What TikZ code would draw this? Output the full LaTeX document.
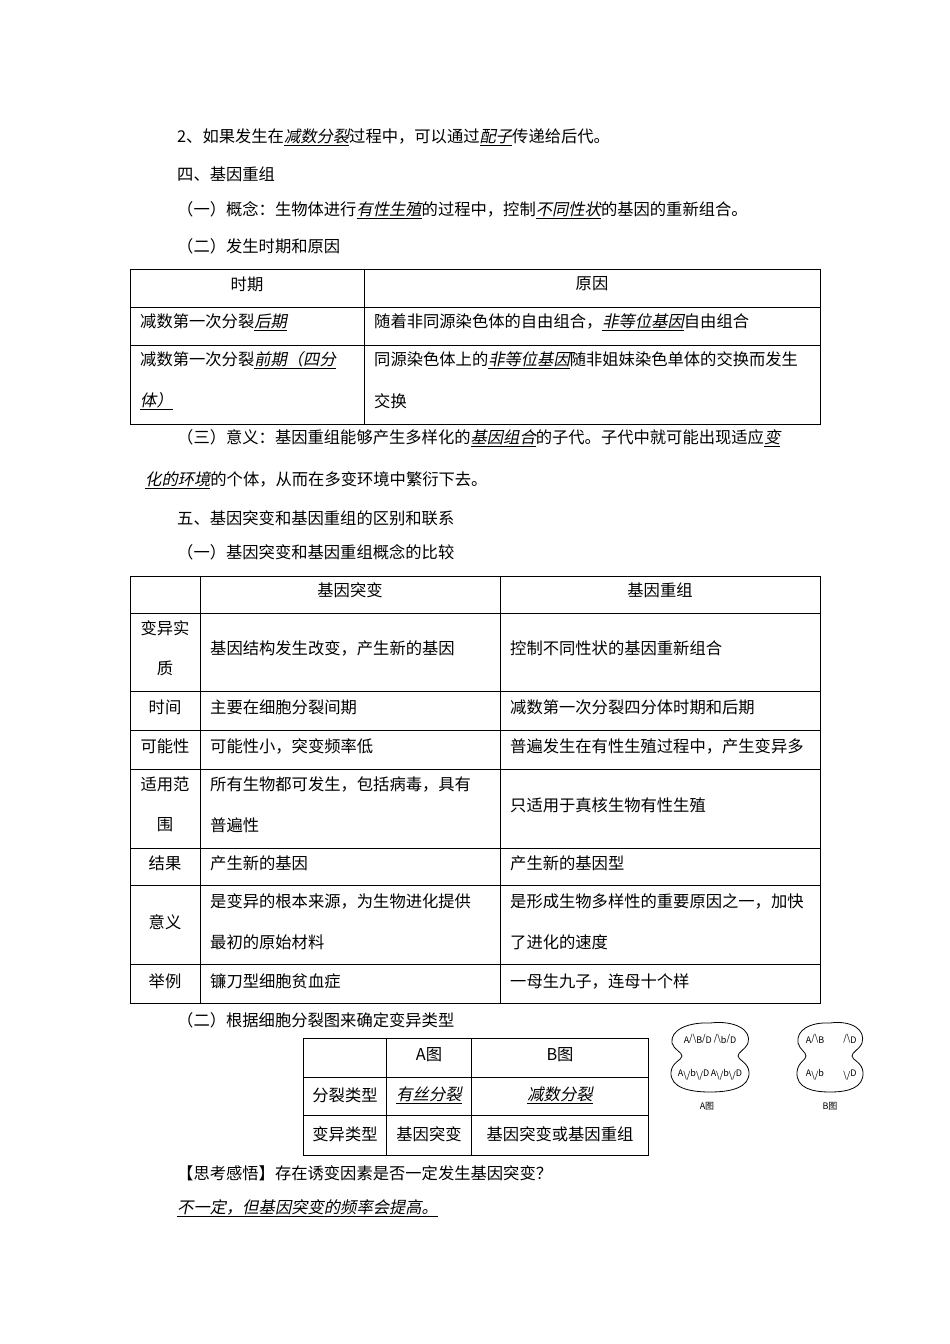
\documentclass[tikz,border=0pt]{standalone}
\usepackage{fontspec}
\setmainfont{Noto Sans CJK SC}
\newfontfamily\slt[FakeSlant=0.2]{Noto Sans CJK SC}
\newcommand{\ul}[1]{{\slt\underline{#1}}}
\begin{document}
\begin{tikzpicture}[x=1pt,y=-1pt,
  every node/.style={font=\fontsize{16.3}{19}\selectfont,inner sep=0pt},
  txt/.style={anchor=west},
  grid/.style={line width=0.7pt},
  sm/.style={font=\fontsize{9}{10}\selectfont}]
\useasboundingbox (0,0) rectangle (950,1344);
\node[txt] (l1) at (177,137) {2、如果发生在\ul{减数分裂}过程中，可以通过\ul{配子}传递给后代。};
\node[txt] (l2) at (177,174) {四、基因重组};
\node[txt] (l3) at (177,210) {（一）概念：生物体进行\ul{有性生殖}的过程中，控制\ul{不同性状}的基因的重新组合。};
\node[txt] (l4) at (177,246) {（二）发生时期和原因};
% table 1
\draw[grid] (130,269) rectangle (820,424);
\draw[grid] (364,269) -- (364,424);
\draw[grid] (130,307) -- (820,307) (130,345) -- (820,345);
\node (t1a) at (247,284) {时期};
\node (t1b) at (592,284) {原因};
\node[txt] (t1c) at (140,322) {减数第一次分裂\ul{后期}};
\node[txt] (t1d) at (374,322) {随着非同源染色体的自由组合，\ul{非等位基因}自由组合};
\node[txt] (t1e) at (140,360) {减数第一次分裂\ul{前期（四分}};
\node[txt] (t1f) at (140,401) {\ul{体）}};
\node[txt] (t1g) at (374,360) {同源染色体上的\ul{非等位基因}随非姐妹染色单体的交换而发生};
\node[txt] (t1h) at (374,401) {交换};
\node[txt] (l5) at (177,438) {（三）意义：基因重组能够产生多样化的\ul{基因组合}的子代。子代中就可能出现适应\ul{变}};
\node[txt] (l6) at (145,480) {\ul{化的环境}的个体，从而在多变环境中繁衍下去。};
\node[txt] (l7) at (177,518) {五、基因突变和基因重组的区别和联系};
\node[txt] (l8) at (177,552) {（一）基因突变和基因重组概念的比较};
% table 2
\draw[grid] (130,576) rectangle (820,1003);
\draw[grid] (200,576) -- (200,1003) (500,576) -- (500,1003);
\foreach \yy in {613,691,730,769,848,885,964} \draw[grid] (130,\yy) -- (820,\yy);
\node (h1) at (350,590) {基因突变};
\node (h2) at (660,590) {基因重组};
\node (r1a) at (165,628) {变异实};
\node (r1b) at (165,668) {质};
\node[txt] (r1c) at (210,648) {基因结构发生改变，产生新的基因};
\node[txt] (r1d) at (510,648) {控制不同性状的基因重新组合};
\node (r2a) at (165,707) {时间};
\node[txt] (r2c) at (210,707) {主要在细胞分裂间期};
\node[txt] (r2d) at (510,707) {减数第一次分裂四分体时期和后期};
\node (r3a) at (165,746) {可能性};
\node[txt] (r3c) at (210,746) {可能性小，突变频率低};
\node[txt] (r3d) at (510,746) {普遍发生在有性生殖过程中，产生变异多};
\node (r4a) at (165,784) {适用范};
\node (r4b) at (165,825) {围};
\node[txt] (r4c) at (210,784) {所有生物都可发生，包括病毒，具有};
\node[txt] (r4e) at (210,825) {普遍性};
\node[txt] (r4d) at (510,805) {只适用于真核生物有性生殖};
\node (r5a) at (165,863) {结果};
\node[txt] (r5c) at (210,863) {产生新的基因};
\node[txt] (r5d) at (510,863) {产生新的基因型};
\node (r6a) at (165,922) {意义};
\node[txt] (r6c) at (210,901) {是变异的根本来源，为生物进化提供};
\node[txt] (r6e) at (210,942) {最初的原始材料};
\node[txt] (r6d) at (510,901) {是形成生物多样性的重要原因之一，加快};
\node[txt] (r6f) at (510,942) {了进化的速度};
\node (r7a) at (165,981) {举例};
\node[txt] (r7c) at (210,981) {镰刀型细胞贫血症};
\node[txt] (r7d) at (510,981) {一母生九子，连母十个样};
\node[txt] (l9) at (177,1020) {（二）根据细胞分裂图来确定变异类型};
% table 3
\draw[grid] (303,1038) rectangle (648,1155);
\draw[grid] (386,1038) -- (386,1155) (471,1038) -- (471,1155);
\draw[grid] (303,1077) -- (648,1077) (303,1115) -- (648,1115);
\node (s1) at (429,1055) {A图};
\node (s2) at (560,1055) {B图};
\node (s3) at (345,1095) {分裂类型};
\node (s4) at (429,1095) {\ul{有丝分裂}};
\node (s5) at (560,1095) {\ul{减数分裂}};
\node (s6) at (345,1134) {变异类型};
\node (s7) at (429,1134) {基因突变};
\node (s8) at (560,1134) {基因突变或基因重组};
% cell figures
\draw[line width=0.8pt] (710,1023) .. controls (735,1020) and (752,1030) .. (748,1043)
  .. controls (745,1050) and (738,1052) .. (738,1056) .. controls (738,1060) and (748,1062) .. (749,1072)
  .. controls (750,1088) and (730,1092) .. (710,1092) .. controls (690,1092) and (670,1088) .. (671,1072)
  .. controls (672,1062) and (682,1060) .. (682,1056) .. controls (682,1052) and (674,1050) .. (672,1043)
  .. controls (670,1030) and (688,1022) .. (710,1023) -- cycle;
\node[sm] (ca1) at (710,1039) {A\raisebox{2pt}{/\textbackslash}B\raisebox{2pt}{/}D\ \raisebox{2pt}{/\textbackslash}b\raisebox{2pt}{/}D};
\node[sm] (ca2) at (710,1075) {A\raisebox{-2pt}{\textbackslash/}b\raisebox{-2pt}{\textbackslash/}D\,A\raisebox{-2pt}{\textbackslash/}b\raisebox{-2pt}{\textbackslash/}D};
\node[sm] (ca3) at (707,1106) {A图};
\draw[line width=0.8pt] (830,1023) .. controls (852,1020) and (866,1030) .. (862,1043)
  .. controls (859,1050) and (852,1052) .. (852,1056) .. controls (852,1060) and (862,1062) .. (863,1072)
  .. controls (864,1088) and (848,1092) .. (830,1092) .. controls (812,1092) and (796,1088) .. (797,1072)
  .. controls (798,1062) and (806,1060) .. (806,1056) .. controls (806,1052) and (800,1050) .. (798,1043)
  .. controls (796,1030) and (810,1022) .. (830,1023) -- cycle;
\node[sm] (cb1) at (815,1039) {A\raisebox{2pt}{/\textbackslash}B};
\node[sm] (cb2) at (850,1039) {\raisebox{2pt}{/\textbackslash}D};
\node[sm] (cb3) at (815,1075) {A\raisebox{-2pt}{\textbackslash/}b};
\node[sm] (cb4) at (850,1075) {\raisebox{-2pt}{\textbackslash/}D};
\node[sm] (cb5) at (830,1106) {B图};
\node[txt] (l10) at (177,1173) {【思考感悟】存在诱变因素是否一定发生基因突变？};
\node[txt] (l11) at (177,1208) {\ul{不一定，但基因突变的频率会提高。}};
\end{tikzpicture}
\end{document}
